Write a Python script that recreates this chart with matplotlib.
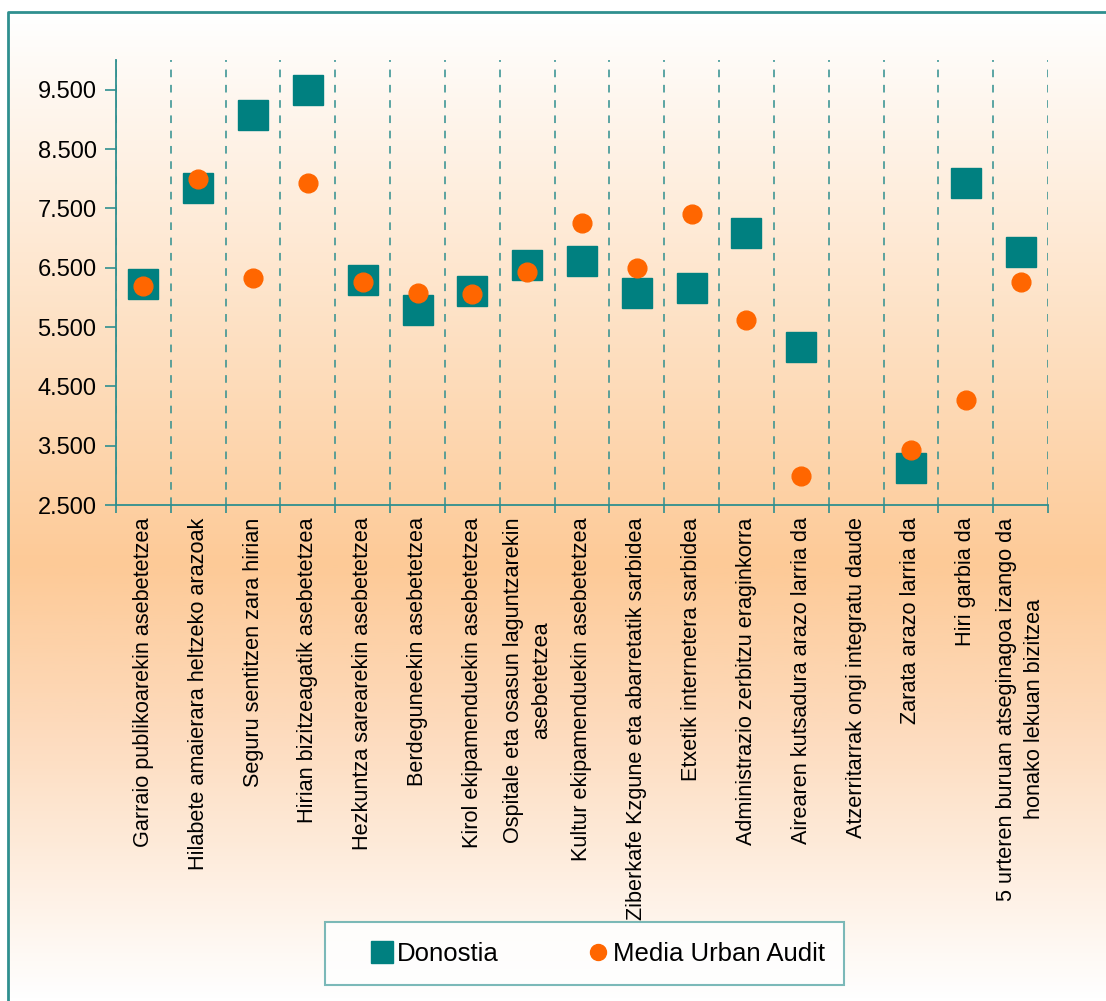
import matplotlib
matplotlib.use("Agg")
import matplotlib.pyplot as plt
from matplotlib.colors import LinearSegmentedColormap
import numpy as np

plt.rcParams['font.family'] = ['Liberation Sans', 'DejaVu Sans']

categories = [
    "Garraio publikoarekin asebetetzea",
    "Hilabete amaierara heltzeko arazoak",
    "Seguru sentitzen zara hirian",
    "Hirian bizitzeagatik asebetetzea",
    "Hezkuntza sarearekin asebetetzea",
    "Berdeguneekin asebetetzea",
    "Kirol ekipamenduekin asebetetzea",
    "Ospitale eta osasun laguntzarekin\nasebetetzea",
    "Kultur ekipamenduekin asebetetzea",
    "Ziberkafe Kzgune eta abarretatik sarbidea",
    "Etxetik internetera sarbidea",
    "Administrazio zerbitzu eraginkorra",
    "Airearen kutsadura arazo larria da",
    "Atzerritarrak ongi integratu daude",
    "Zarata arazo larria da",
    "Hiri garbia da",
    "5 urteren buruan atseginagoa izango da\nhonako lekuan bizitzea",
]

donostia = [6.22, 7.85, 9.07, 9.50, 6.29, 5.78, 6.10, 6.55, 6.61, 6.08,
            6.15, 7.08, 5.17, np.nan, 3.12, 7.92, 6.77]
media_ua = [6.19, 8.00, 6.32, 7.93, 6.26, 6.08, 6.05, 6.42, 7.26, 6.49,
            7.40, 5.61, 2.99, np.nan, 3.43, 4.27, 6.25]

y_ticks = [2.5, 3.5, 4.5, 5.5, 6.5, 7.5, 8.5, 9.5]

teal = "#008080"
line_teal = "#2F8F8F"
orange = "#FF6600"

W, H = 1106, 1001
fig = plt.figure(figsize=(W / 100, H / 100), dpi=100)

# background: white outside the frame, vertical peach gradient inside
bg = fig.add_axes([0, 0, 1, 1], zorder=-10)
bg.set_xlim(0, W)
bg.set_ylim(H, 0)
bg.axis("off")
cmap = LinearSegmentedColormap.from_list(
    "peach", [(0, "#FFFFFF"), (0.56, "#FDCA97"), (0.72, "#FDDABB"), (1, "#FFFFFF")])
grad = np.linspace(0, 1, 500).reshape(-1, 1)
bg.imshow(grad, cmap=cmap, aspect="auto", extent=[8, W, H, 12], zorder=0)
bg.plot([8, 8, W], [H, 12, 12], color=line_teal, lw=2, zorder=1)

ax = fig.add_axes([116 / W, 1 - 505 / H, 932 / W, 445 / H])
ax.patch.set_alpha(0)
x = np.arange(len(categories))

ax.plot(x, donostia, linestyle="none", marker="s", markersize=21.5,
        color=teal, label="Donostia", zorder=3)
ax.plot(x, media_ua, linestyle="none", marker="o", markersize=13.5,
        color=orange, label="Media Urban Audit", zorder=4)

ax.set_xlim(-0.5, len(categories) - 0.5)
ax.set_ylim(2.5, 10.0)
ax.set_yticks(y_ticks)
ax.set_yticklabels(["%.3f" % v for v in y_ticks], fontsize=17)

ax.set_xticks(x)
ax.set_xticklabels(categories, rotation=90, fontsize=15.6, va="top",
                   ha="center", multialignment="center", linespacing=1.45)
ax.tick_params(axis="x", which="major", length=0, pad=9)
ax.set_xticks(np.arange(-0.5, len(categories), 1), minor=True)
ax.tick_params(axis="x", which="minor", length=6, color=line_teal, width=1.2)
ax.tick_params(axis="y", length=8, color=line_teal, width=1.2, pad=6)
ax.grid(True, axis="x", which="minor", color=line_teal, linestyle=(0, (5, 5)),
        linewidth=1.1)

for side in ["top", "right"]:
    ax.spines[side].set_visible(False)
for side in ["left", "bottom"]:
    ax.spines[side].set_color(line_teal)
    ax.spines[side].set_linewidth(1.3)

leg = fig.legend(loc="lower left", bbox_to_anchor=(325 / W, 1 - 985 / H),
                 borderaxespad=0, ncol=2, fontsize=18.5, frameon=True,
                 fancybox=False, edgecolor="#5AA8A8", handletextpad=-0.85,
                 columnspacing=2.4, borderpad=0.75, markerscale=1.0,
                 handlelength=2.9)
leg.get_frame().set_linewidth(1.5)
leg.get_frame().set_facecolor("white")
leg.legend_handles[0].set_markersize(15.5)
leg.legend_handles[1].set_markersize(11.5)
leg.set_zorder(-1)  # long tick label is drawn over the legend, as in the source

fig.savefig("out.png", dpi=100)
